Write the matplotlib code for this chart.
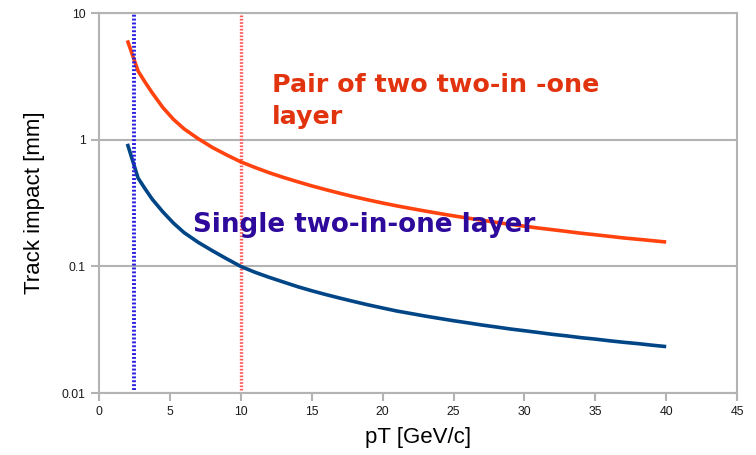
import matplotlib
matplotlib.use("Agg")
import matplotlib.pyplot as plt

# pT [GeV/c] sample points and track impact [mm]
pt = [2, 2.75, 3.25, 3.75, 4.5, 5.25, 6, 7, 8, 9,
      10, 11, 12, 13, 14, 15, 16, 17, 18, 19,
      20, 21, 22, 23, 24, 25, 26, 27, 28, 29,
      30, 31, 32, 33, 34, 35, 36, 37, 38, 39, 40]
pair_layer = [6.1, 3.5, 2.85, 2.35, 1.8, 1.45, 1.22, 1.02, 0.87, 0.76,
              0.67, 0.605, 0.55, 0.505, 0.467, 0.433, 0.404, 0.378, 0.355, 0.335,
              0.317, 0.301, 0.287, 0.274, 0.262, 0.251, 0.241, 0.232, 0.223, 0.215,
              0.208, 0.201, 0.195, 0.189, 0.183, 0.178, 0.173, 0.168, 0.164, 0.160, 0.156]
single_layer = [0.93, 0.50, 0.41, 0.34, 0.27, 0.22, 0.185, 0.155, 0.133, 0.115,
                0.100, 0.090, 0.0821, 0.0754, 0.0693, 0.0643, 0.060, 0.0562, 0.0528, 0.0497,
                0.047, 0.0445, 0.0425, 0.0406, 0.0389, 0.0373, 0.0359, 0.0345, 0.0333, 0.0321,
                0.0311, 0.0301, 0.0291, 0.0283, 0.0274, 0.0267, 0.0259, 0.0252, 0.0246, 0.0239, 0.0233]
cut_blue = 2.5
cut_red = 10

xticks = list(range(0, 50, 5))
yticks = [0.01, 0.1, 1, 10]
ytick_labels = ["0.01", "0.1", "1", "10"]

grey = "#b3b3b3"

fig = plt.figure(figsize=(7.56, 4.55), dpi=100)
ax = fig.add_axes([0.131, 0.136, 0.844, 0.835])

ax.set_yscale("log")
ax.set_xlim(0, 45)
ax.set_ylim(0.01, 10)

ax.plot(pt, pair_layer, color="#ff420e", lw=2.6, solid_capstyle="butt", zorder=3)
ax.plot(pt, single_layer, color="#004586", lw=2.6, solid_capstyle="butt", zorder=3)

ax.plot([cut_blue, cut_blue], [0.0105, 10], color="#2b1fe0", lw=2.8,
        linestyle=(0, (0.5, 0.5)), zorder=4)
ax.plot([cut_red, cut_red], [0.0105, 10], color="#ff5a5a", lw=2.4,
        linestyle=(0, (0.5, 0.5)), zorder=2)

ax.text(12.2, 2.03, "Pair of two two-in -one\nlayer", color="#e2330f",
        fontsize=18.3, fontweight="bold", family="DejaVu Sans", va="center", ha="left",
        linespacing=1.4, zorder=5)
ax.text(6.6, 0.214, "Single two-in-one layer", color="#2e0a9c",
        fontsize=18.8, fontweight="bold", family="DejaVu Sans", va="center", ha="left",
        zorder=5)

ax.set_xticks(xticks)
ax.set_yticks(yticks)
ax.set_yticklabels(ytick_labels)
ax.minorticks_off()
ax.yaxis.grid(True, color=grey, lw=1.5)
ax.set_axisbelow(True)
for s in ax.spines.values():
    s.set_color(grey)
    s.set_linewidth(1.5)
ax.tick_params(axis="both", colors=grey, length=6, width=1.5,
               labelcolor="#1a1a1a", labelsize=8.8)
for lab in ax.get_xticklabels() + ax.get_yticklabels():
    lab.set_family("Liberation Sans")

ax.set_xlabel("pT [GeV/c]", fontsize=16, family="Liberation Sans", labelpad=6)
ax.set_ylabel("Track impact [mm]", fontsize=16, family="Liberation Sans", labelpad=12)

fig.savefig("out.png", dpi=100)
